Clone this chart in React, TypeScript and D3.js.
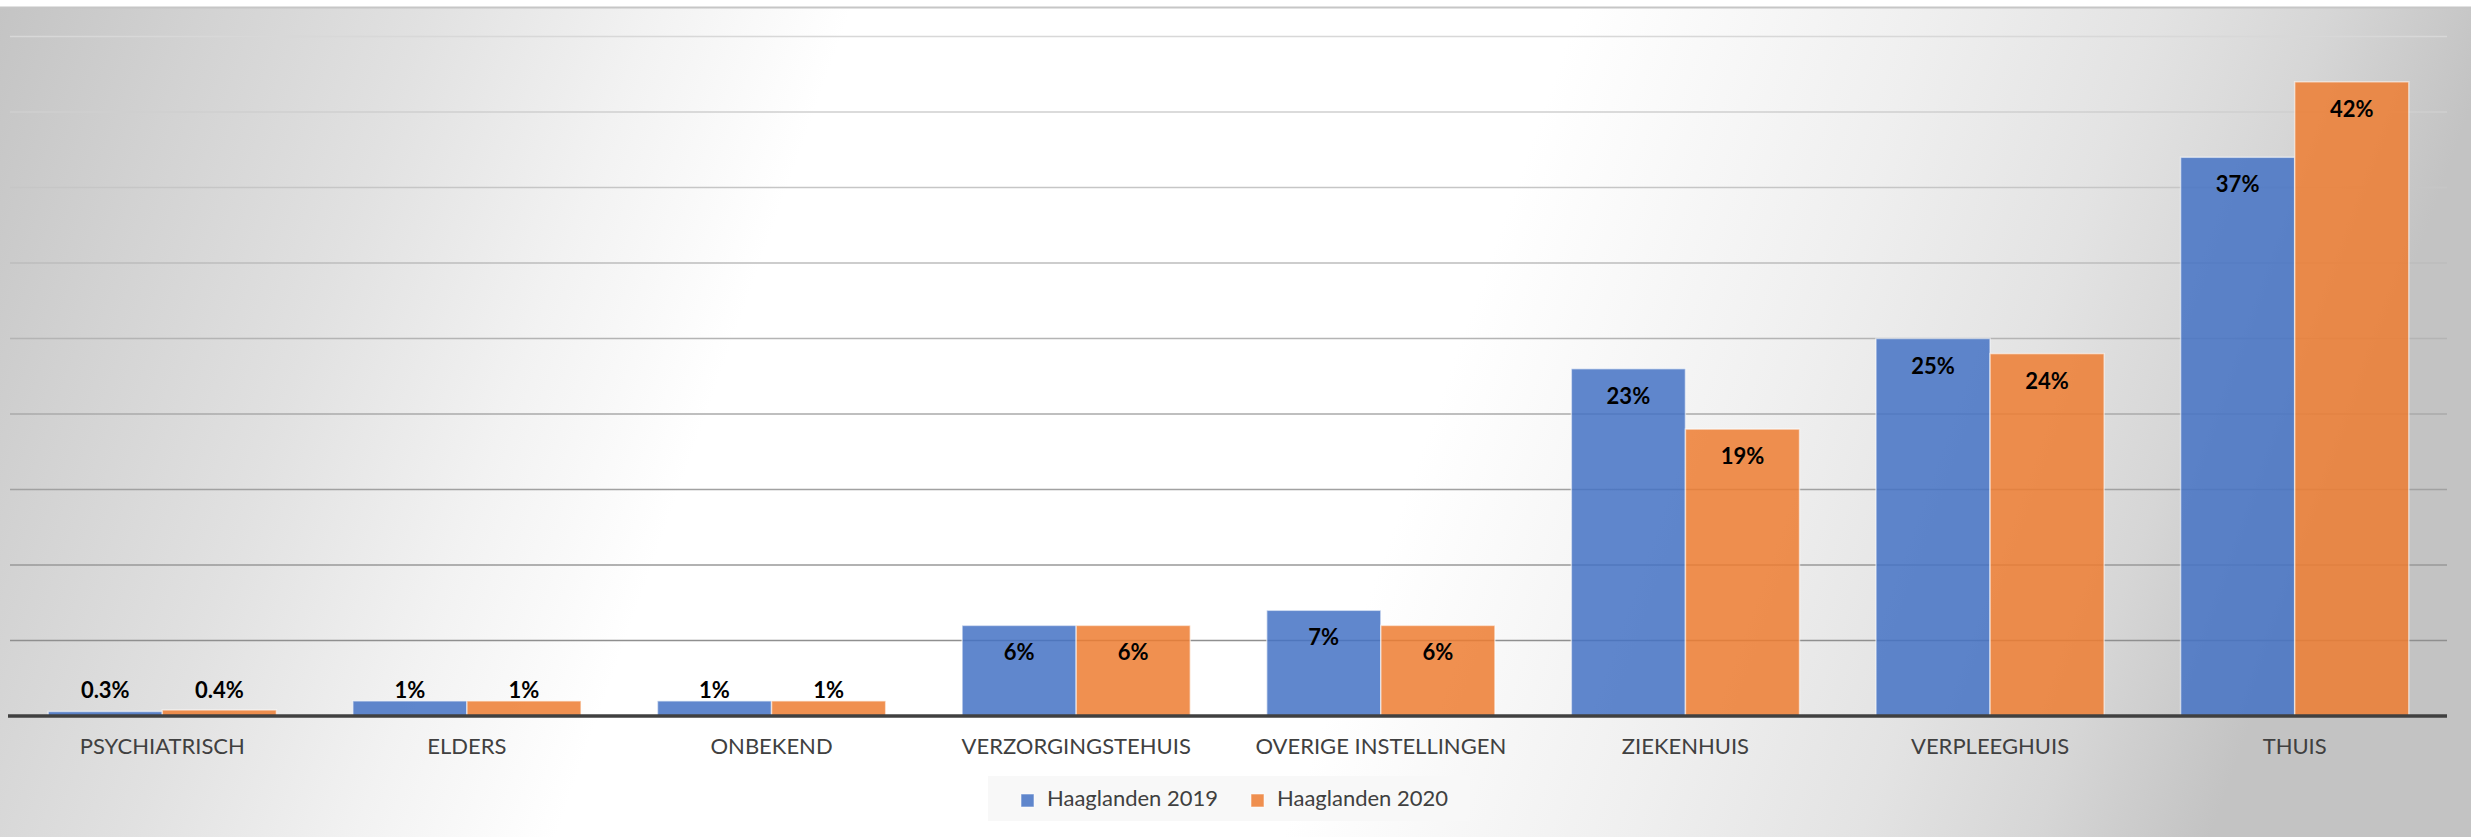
import React from 'react';
import * as d3 from 'd3';

const categories = [
  'PSYCHIATRISCH',
  'ELDERS',
  'ONBEKEND',
  'VERZORGINGSTEHUIS',
  'OVERIGE INSTELLINGEN',
  'ZIEKENHUIS',
  'VERPLEEGHUIS',
  'THUIS',
];
const seriesNames = ['Haaglanden 2019', 'Haaglanden 2020'];
const values2019 = [0.3, 1, 1, 6, 7, 23, 25, 37];
const values2020 = [0.4, 1, 1, 6, 6, 19, 24, 42];
const yTicks = [5, 10, 15, 20, 25, 30, 35, 40, 45];

const WIDTH = 2471;
const HEIGHT = 837;
const COLORS = ['#4472C4', '#ED7D31'];
const FONT = 'Lato, "Open Sans", sans-serif';

const App: React.FC = () => {
  const left = 10;
  const right = 2447;
  const axisY = 716;

  const x0 = d3.scaleBand<string>().domain(categories).range([left, right]).padding(0);
  // gap width ~67% of a bar
  const groupW = x0.bandwidth() * (2 / 2.67);
  const x1 = d3
    .scaleBand<string>()
    .domain(seriesNames)
    .range([(x0.bandwidth() - groupW) / 2, (x0.bandwidth() + groupW) / 2])
    .padding(0);

  const y = d3.scaleLinear().domain([0, 45]).range([axisY, 36.5]);
  const gridColor = d3.scaleLinear<string>().domain([45, 5]).range(['#d8d8d8', '#8f8f8f']);

  const series = [values2019, values2020];

  return (
    <div>
      <style>{`body{margin:0}`}</style>
      <svg width={WIDTH} height={HEIGHT} style={{ display: 'block' }}>
        <defs>
          <linearGradient id="bg" x1="0" y1="0" x2="1" y2="0.12">
            <stop offset="0" stopColor="#c4c4c4" />
            <stop offset="0.08" stopColor="#d2d2d2" />
            <stop offset="0.17" stopColor="#e1e1e1" />
            <stop offset="0.26" stopColor="#f2f2f2" />
            <stop offset="0.34" stopColor="#ffffff" />
            <stop offset="0.63" stopColor="#ffffff" />
            <stop offset="0.77" stopColor="#efefef" />
            <stop offset="0.86" stopColor="#e3e3e3" />
            <stop offset="0.93" stopColor="#d6d6d6" />
            <stop offset="1" stopColor="#c3c3c3" />
          </linearGradient>
        </defs>

        <rect x={0} y={0} width={WIDTH} height={HEIGHT} fill="#ffffff" />
        <rect x={0} y={7} width={WIDTH} height={HEIGHT - 7} fill="url(#bg)" />
        <line x1={0} x2={WIDTH} y1={7.5} y2={7.5} stroke="#c6c6c6" strokeWidth={2} />

        {/* gridlines */}
        {yTicks.map((t) => (
          <line
            key={t}
            x1={left}
            x2={right}
            y1={y(t)}
            y2={y(t)}
            stroke={gridColor(t)}
            strokeWidth={1.4}
          />
        ))}

        {/* bars */}
        {categories.map((c, i) => (
          <g key={c} transform={`translate(${x0(c)},0)`}>
            {seriesNames.map((s, j) => {
              const v = series[j][i];
              const bx = x1(s) as number;
              const top = y(v);
              return (
                <rect
                  key={s}
                  x={bx}
                  y={top}
                  width={x1.bandwidth()}
                  height={axisY - top}
                  fill={COLORS[j]}
                  fillOpacity={0.85}
                  stroke="#ffffff"
                  strokeOpacity={0.55}
                  strokeWidth={1.5}
                />
              );
            })}
          </g>
        ))}

        {/* axis */}
        <line x1={8} x2={right} y1={axisY} y2={axisY} stroke="#404040" strokeWidth={3.5} />

        {/* data labels */}
        {categories.map((c, i) => (
          <g key={c} transform={`translate(${x0(c)},0)`}>
            {seriesNames.map((s, j) => {
              const v = series[j][i];
              const cx = (x1(s) as number) + x1.bandwidth() / 2;
              const ty = Math.min(y(v) + 35, 698);
              return (
                <text
                  key={s}
                  x={cx}
                  y={ty}
                  textAnchor="middle"
                  fontFamily={FONT}
                  fontWeight="bold"
                  fontSize={22}
                  fill="#000000"
                >
                  {`${v}%`}
                </text>
              );
            })}
          </g>
        ))}

        {/* category labels */}
        {categories.map((c) => (
          <text
            key={c}
            x={(x0(c) as number) + x0.bandwidth() / 2}
            y={754}
            textAnchor="middle"
            fontFamily={FONT}
            fontSize={22}
            fill="#404040"
          >
            {c}
          </text>
        ))}

        {/* legend */}
        <g>
          <rect x={988} y={776} width={482} height={45} fill="#f7f7f7" fillOpacity={0.9} />
          {seriesNames.map((s, j) => {
            const lx = j === 0 ? 1021 : 1251;
            return (
              <g key={s}>
                <rect
                  x={lx}
                  y={794}
                  width={13}
                  height={13}
                  fill={COLORS[j]}
                  fillOpacity={0.85}
                  stroke="#ffffff"
                  strokeOpacity={0.55}
                />
                <text x={lx + 26} y={806} fontFamily={FONT} fontSize={22} fill="#404040">
                  {s}
                </text>
              </g>
            );
          })}
        </g>
      </svg>
    </div>
  );
};

export default App;
